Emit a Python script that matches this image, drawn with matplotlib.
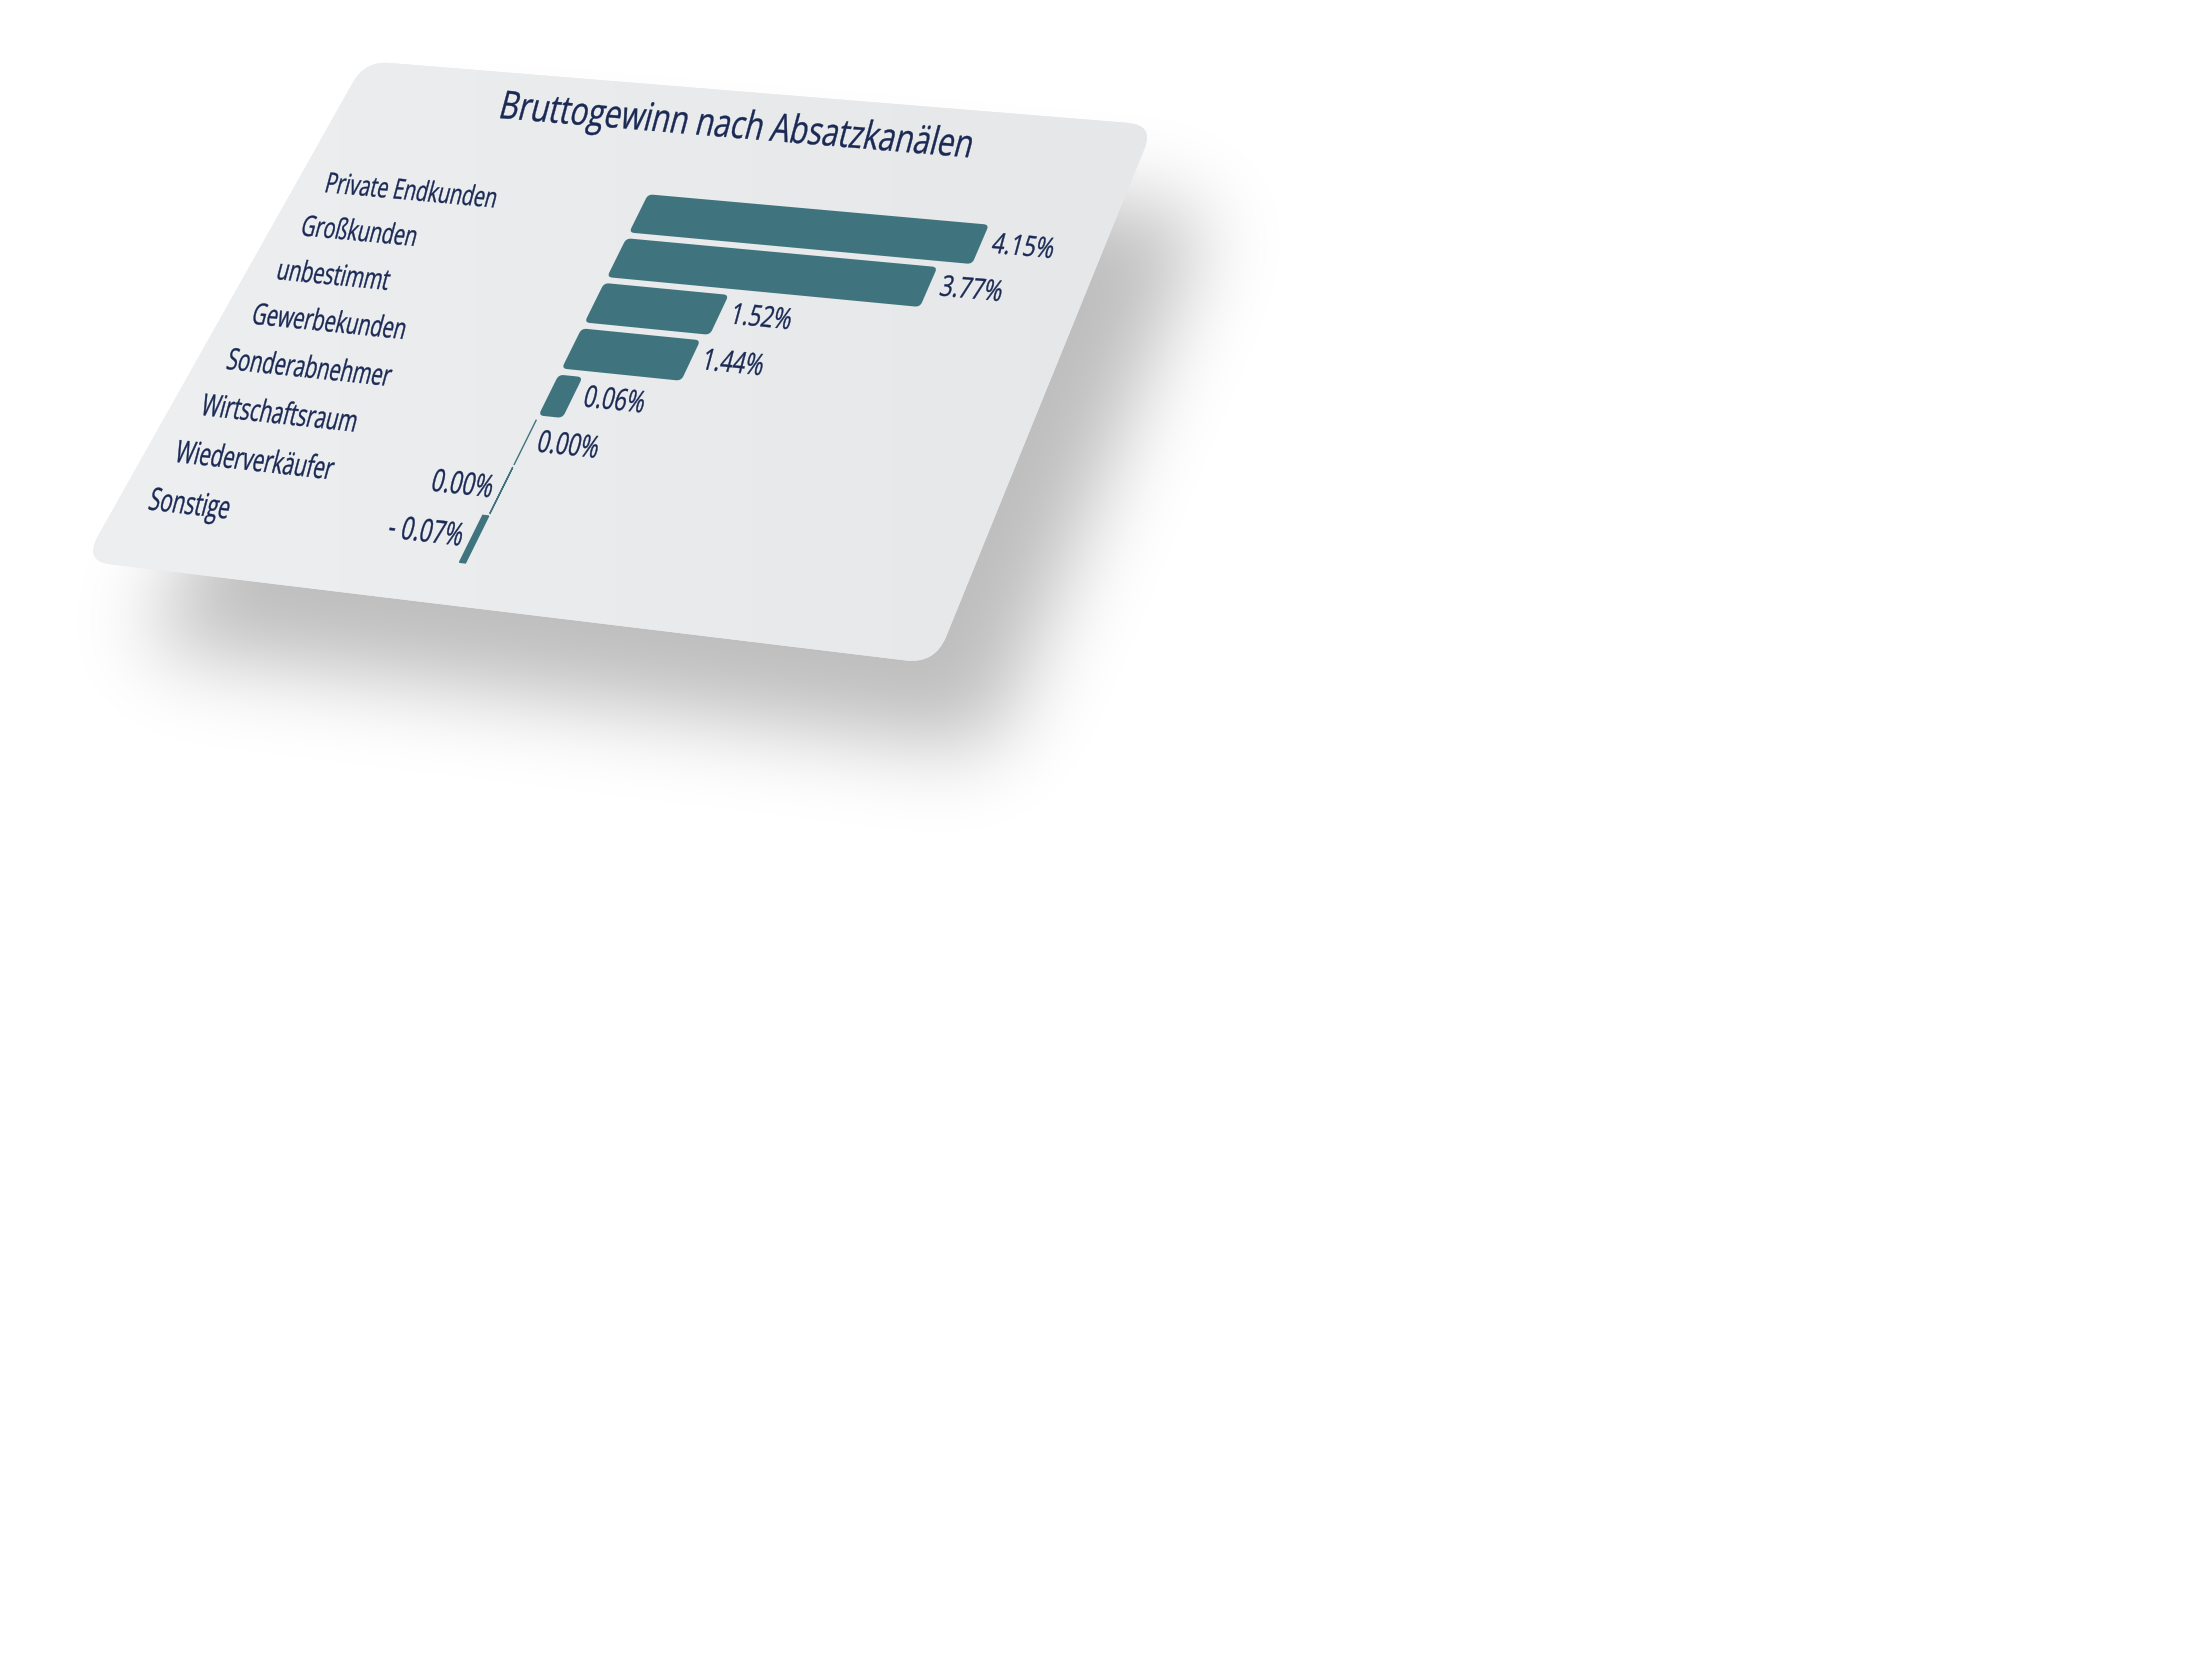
import numpy as np
import matplotlib
matplotlib.use("Agg")
import matplotlib.pyplot as plt
from matplotlib import patheffects
from matplotlib.transforms import Transform, Affine2D
from matplotlib.patches import FancyBboxPatch, Rectangle

# data
title = "Bruttogewinn nach Absatzkanälen"
channels = ["Private Endkunden", "Großkunden", "unbestimmt", "Gewerbekunden",
            "Sonderabnehmer", "Wirtschaftsraum", "Wiederverkäufer", "Sonstige"]
margin = [4.15, 3.77, 1.52, 1.44, 0.06, 0.00, -0.001, -0.07]   # in %

TEXT = "#1b2a55"
BAR = "#3f737e"
CARD = "#e9ebed"

W_PX, H_PX = 2187, 1676
CW, CH = 800.0, 560.0                      # card size in its own units
corners = [(365, 61), (1154, 125), (935, 664), (84, 561)]   # card corners on the picture


class CardTransform(Transform):
    """projective map from flat card units to picture pixels"""
    input_dims = output_dims = 2
    is_separable = False
    has_inverse = True

    def __init__(self, m):
        super().__init__()
        self.m = m

    def transform_non_affine(self, values):
        v = np.asarray(values, dtype=float).reshape(-1, 2)
        p = np.column_stack([v, np.ones(len(v))]) @ self.m.T
        return p[:, :2] / p[:, 2:3]

    def inverted(self):
        return CardTransform(np.linalg.inv(self.m))


def homography(src, dst):
    a, b = [], []
    for (x, y), (X, Y) in zip(src, dst):
        a.append([x, y, 1, 0, 0, 0, -X * x, -X * y]); b.append(X)
        a.append([0, 0, 0, x, y, 1, -Y * x, -Y * y]); b.append(Y)
    h = np.linalg.solve(np.array(a, float), np.array(b, float))
    return np.append(h, 1).reshape(3, 3)


class Slanted(patheffects.AbstractPathEffect):
    """lay the glyphs along the card rows with a forward lean"""
    def __init__(self, text, squeeze=0.70, lean=15, stroke=0.25):
        super().__init__()
        self.text = text
        self.squeeze = squeeze
        self.lean = np.deg2rad(lean)
        self.stroke = stroke

    def draw_path(self, renderer, gc, tpath, affine, rgbFace=None):
        t = self.text.get_transform()
        u, v = self.text.get_position()
        p0 = t.transform((u, v))
        ex = (t.transform((u + 1, v)) - p0) * self.squeeze
        ey = t.transform((u, v - 1)) - p0
        ey = np.hypot(*ey) * np.array([np.sin(self.lean), np.cos(self.lean)])
        m = np.array([[ex[0], ey[0], 0], [ex[1], ey[1], 0], [0, 0, 1]])
        warp = Affine2D().translate(-p0[0], -p0[1]) + Affine2D(m) + Affine2D().translate(*p0)
        gc0 = renderer.new_gc()
        gc0.copy_properties(gc)
        gc0.set_linewidth(self.stroke)
        gc0.set_foreground(rgbFace)
        renderer.draw_path(gc0, tpath, affine + warp, rgbFace)
        gc0.restore()


fig = plt.figure(figsize=(W_PX / 100, H_PX / 100), dpi=100)
fig.patch.set_facecolor("white")
ax = fig.add_axes([0, 0, 1, 1])
ax.set_xlim(0, W_PX)
ax.set_ylim(H_PX, 0)
ax.axis("off")

card_tf = CardTransform(homography([(0, 0), (CW, 0), (CW, CH), (0, CH)], corners))
on_card = card_tf + ax.transData

card = FancyBboxPatch((0, 0), CW, CH, boxstyle="round,pad=0,rounding_size=26",
                      transform=on_card, facecolor=CARD, edgecolor="none", zorder=2)
ax.add_patch(card)

# soft shadow under the card
step = 4
ys, xs = np.mgrid[0:H_PX:step, 0:W_PX:step]
outline = card.get_path().to_polygons()[0]
poly = matplotlib.path.Path(card_tf.transform(outline))
dx, dy = 55, 85
mask = poly.contains_points(np.column_stack([xs.ravel() - dx, ys.ravel() - dy]))
mask = mask.reshape(xs.shape).astype(float)
sig = 42 / step
k = np.exp(-0.5 * (np.arange(-int(3 * sig), int(3 * sig) + 1) / sig) ** 2)
k /= k.sum()
blur = np.apply_along_axis(lambda r: np.convolve(r, k, mode="same"), 1, mask)
blur = np.apply_along_axis(lambda c: np.convolve(c, k, mode="same"), 0, blur)
shadow = np.zeros(mask.shape + (4,))
shadow[..., 3] = 0.26 * blur
ax.imshow(shadow, extent=(0, W_PX, H_PX, 0), interpolation="bilinear",
          aspect="auto", zorder=1)

# light gradient across the card face
grad = np.linspace(0, 1, 256)[None, :]
c0 = np.array(matplotlib.colors.to_rgb("#edeff1"))
c1 = np.array(matplotlib.colors.to_rgb("#e5e7e9"))
face = c0 + (c1 - c0) * grad[..., None]
im = ax.imshow(face, extent=(60, 1170, 680, 50), aspect="auto",
               interpolation="bilinear", zorder=2.5)
im.set_clip_path(card)
ax.set_xlim(0, W_PX)
ax.set_ylim(H_PX, 0)


def card_text(u, v, s, size, squeeze=0.70, **kw):
    t = ax.text(u, v, s, transform=on_card, fontsize=size, color=TEXT,
                family="Open Sans", zorder=5, **kw)
    t.set_path_effects([Slanted(t, squeeze=squeeze)])
    return t


# chart layout on the card
U0 = 351.5        # zero line
K = 80.6          # card units per percent
V0 = 145.5        # first row centre
PITCH = 49.9
BAR_H = 43.4
MIN_W = 0.29      # smallest drawn length of a positive bar, in %
chart = Affine2D().scale(K, PITCH).translate(U0, V0)

card_text(405, 41, title, 30, squeeze=0.72, ha="center", va="center")

for i, (name, val) in enumerate(zip(channels, margin)):
    card_text(30, chart.transform((0, i))[1], name, 21, ha="left", va="center")
    label = f"{abs(val):.2f}%"
    if round(val, 2) < 0:
        label = "- " + label
    if val > 0:
        length = max(val, MIN_W)
        (x0, y0), (x1, y1) = chart.transform([(0, i), (length, i)])
        bar = FancyBboxPatch((x0, y0 - BAR_H / 2), x1 - x0, BAR_H,
                             boxstyle="round,pad=0,rounding_size=5",
                             transform=on_card, facecolor=BAR, edgecolor="none", zorder=4)
        ax.add_patch(bar)
        card_text(x1 + 11, y0, label, 21, squeeze=0.72, ha="left", va="center")
    else:
        (x0, y0), (x1, y1) = chart.transform([(val, i), (0, i)])
        bar = Rectangle((x0, y0 - BAR_H / 2 - 2), x1 - x0, BAR_H + 4,
                        transform=on_card, facecolor=BAR, edgecolor=BAR,
                        linewidth=1.0, zorder=4)
        ax.add_patch(bar)
        if val < 0:
            card_text(x0 - 8, y0, label, 21, squeeze=0.72, ha="right", va="center")
        else:
            card_text(x1 + 12, y0, label, 21, squeeze=0.72, ha="left", va="center")

fig.savefig("out.png", dpi=100, facecolor="white")
